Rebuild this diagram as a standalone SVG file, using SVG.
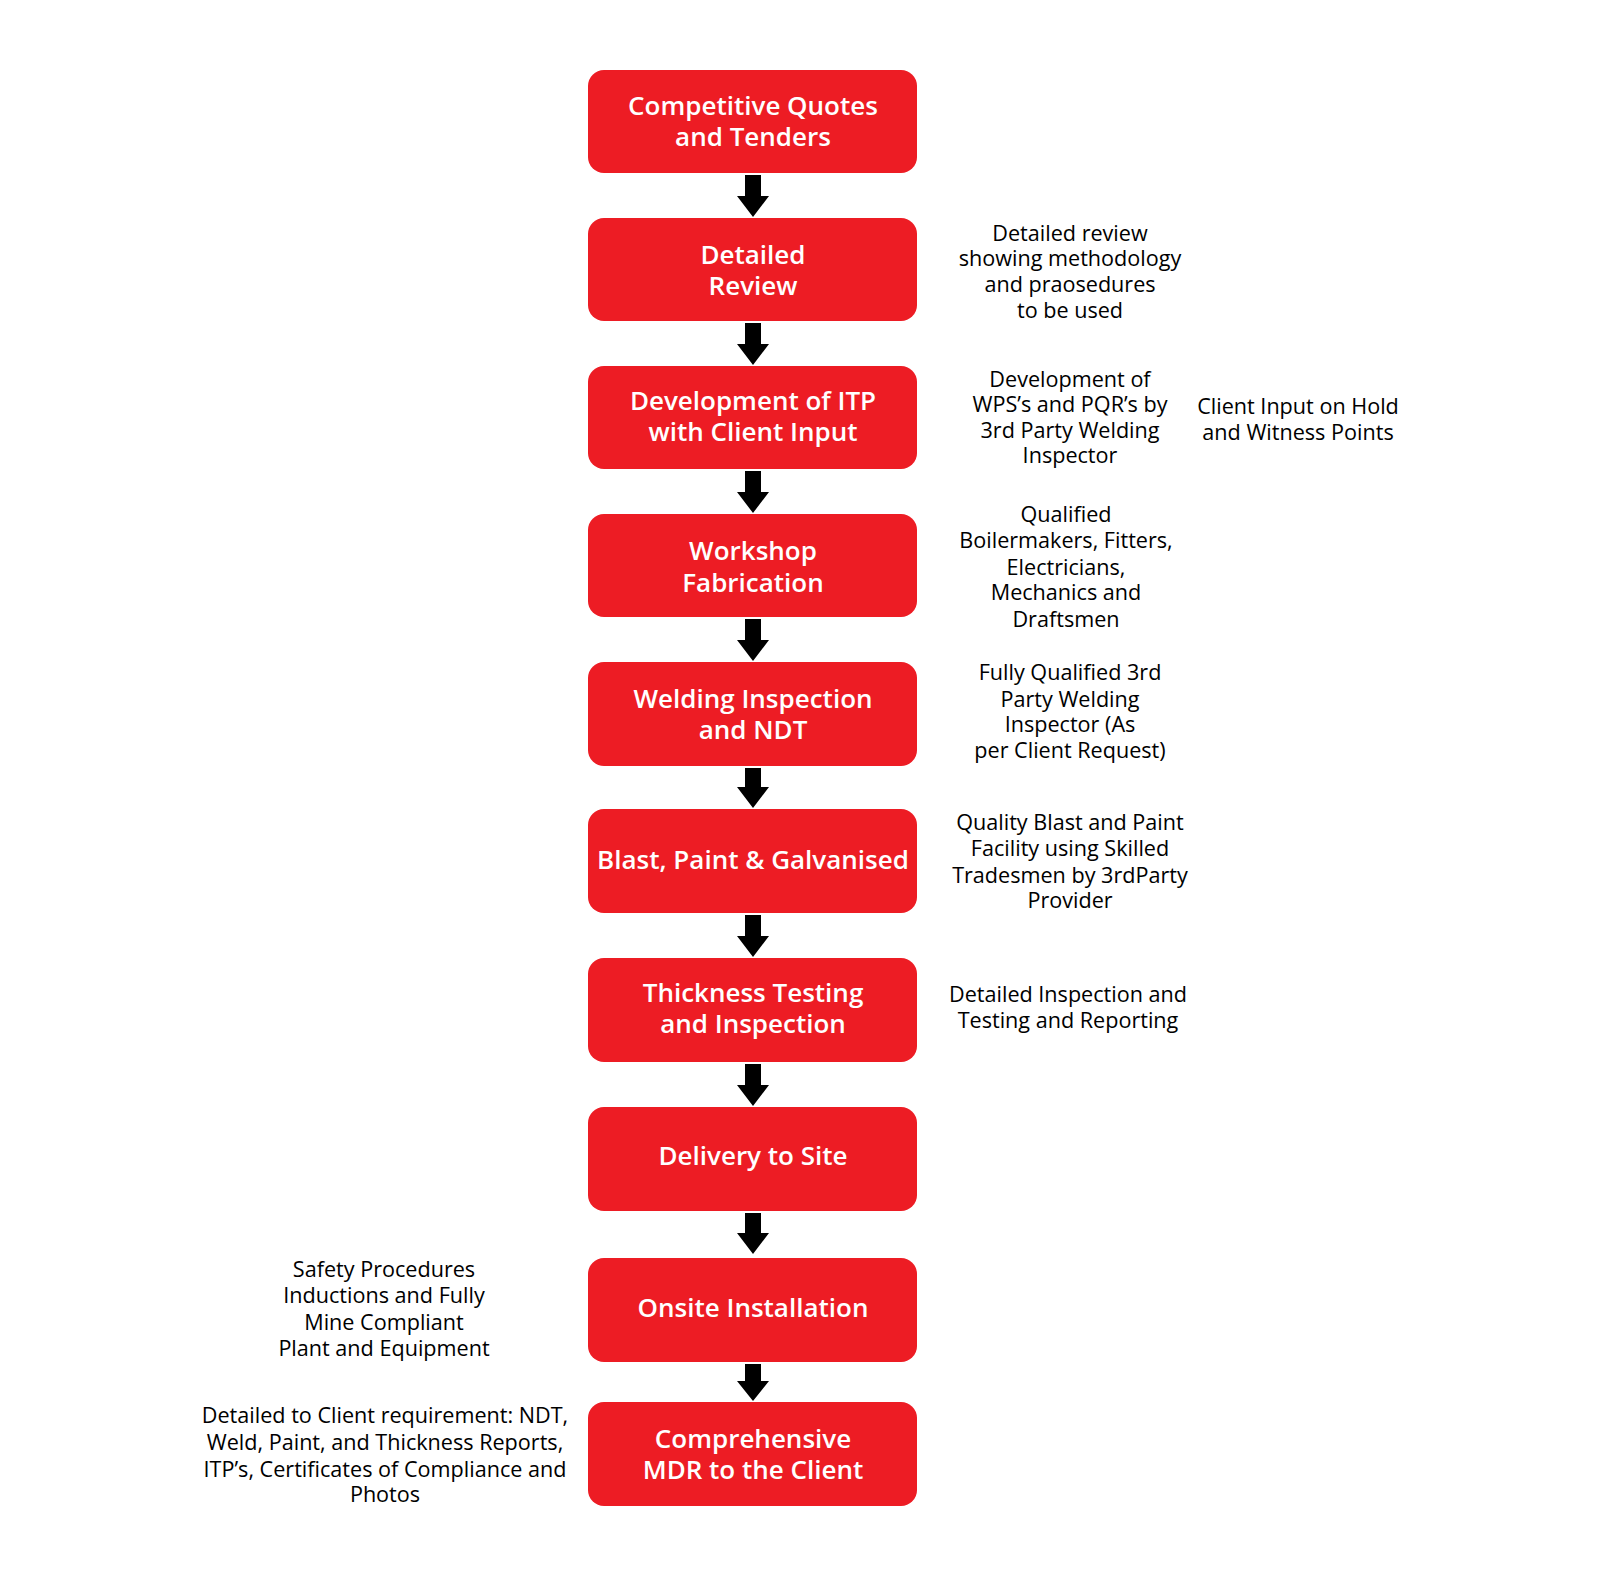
<svg xmlns="http://www.w3.org/2000/svg" width="1600" height="1576" viewBox="0 0 1600 1576">
<defs>
<style>
.box{fill:#ED1C24}
.t{font-family:"Open Sans","Noto Sans",sans-serif;font-weight:600;font-size:26px;fill:#FFFFFF;text-anchor:middle}
.n{font-family:"Open Sans","Noto Sans",sans-serif;font-weight:400;font-size:21.6px;fill:#000000;text-anchor:middle}
.arr{fill:#000000}
</style>
</defs>
<rect width="1600" height="1576" fill="#FFFFFF"/>
<g id="connectors">
<path class="arr" d="M745,175 V196 H737 L753,217 L769,196 H761 V175 Z"/>
<path class="arr" d="M745,323 V344 H737 L753,365 L769,344 H761 V323 Z"/>
<path class="arr" d="M745,471 V492 H737 L753,513 L769,492 H761 V471 Z"/>
<path class="arr" d="M745,619 V640 H737 L753,661 L769,640 H761 V619 Z"/>
<path class="arr" d="M745,768 V787 H737 L753,808 L769,787 H761 V768 Z"/>
<path class="arr" d="M745,915 V936 H737 L753,957 L769,936 H761 V915 Z"/>
<path class="arr" d="M745,1064 V1085 H737 L753,1106 L769,1085 H761 V1064 Z"/>
<path class="arr" d="M745,1213 V1233 H737 L753,1254 L769,1233 H761 V1213 Z"/>
<path class="arr" d="M745,1364 V1381 H737 L753,1401 L769,1381 H761 V1364 Z"/>
</g>
<g id="n1">
<rect class="box" x="588" y="70" width="329" height="103" rx="16"/>
<text class="t" x="753" y="115">Competitive Quotes</text>
<text class="t" x="753" y="146">and Tenders</text>
</g>
<g id="n2">
<rect class="box" x="588" y="218" width="329" height="103" rx="16"/>
<text class="t" x="753" y="264">Detailed</text>
<text class="t" x="753" y="295">Review</text>
</g>
<g id="n3">
<rect class="box" x="588" y="366" width="329" height="103" rx="16"/>
<text class="t" x="753" y="410">Development of ITP</text>
<text class="t" x="753" y="441">with Client Input</text>
</g>
<g id="n4">
<rect class="box" x="588" y="514" width="329" height="103" rx="16"/>
<text class="t" x="753" y="560">Workshop</text>
<text class="t" x="753" y="592">Fabrication</text>
</g>
<g id="n5">
<rect class="box" x="588" y="662" width="329" height="104" rx="16"/>
<text class="t" x="753" y="708">Welding Inspection</text>
<text class="t" x="753" y="739">and NDT</text>
</g>
<g id="n6">
<rect class="box" x="588" y="809" width="329" height="104" rx="16"/>
<text class="t" x="753" y="869">Blast, Paint &amp; Galvanised</text>
</g>
<g id="n7">
<rect class="box" x="588" y="958" width="329" height="104" rx="16"/>
<text class="t" x="753" y="1002">Thickness Testing</text>
<text class="t" x="753" y="1033">and Inspection</text>
</g>
<g id="n8">
<rect class="box" x="588" y="1107" width="329" height="104" rx="16"/>
<text class="t" x="753" y="1165">Delivery to Site</text>
</g>
<g id="n9">
<rect class="box" x="588" y="1258" width="329" height="104" rx="16"/>
<text class="t" x="753" y="1317">Onsite Installation</text>
</g>
<g id="n10">
<rect class="box" x="588" y="1402" width="329" height="104" rx="16"/>
<text class="t" x="753" y="1448">Comprehensive</text>
<text class="t" x="753" y="1479">MDR to the Client</text>
</g>
<g id="note-review">
<text class="n" x="1070" y="241">Detailed review</text>
<text class="n" x="1070" y="266">showing methodology</text>
<text class="n" x="1070" y="292">and praosedures</text>
<text class="n" x="1070" y="318">to be used</text>
</g>
<g id="note-wps">
<text class="n" x="1070" y="387">Development of</text>
<text class="n" x="1070" y="412">WPS’s and PQR’s by</text>
<text class="n" x="1070" y="438">3rd Party Welding</text>
<text class="n" x="1070" y="463">Inspector</text>
</g>
<g id="note-client">
<text class="n" x="1298" y="414">Client Input on Hold</text>
<text class="n" x="1298" y="440">and Witness Points</text>
</g>
<g id="note-qualified">
<text class="n" x="1066" y="522">Qualified</text>
<text class="n" x="1066" y="548">Boilermakers, Fitters,</text>
<text class="n" x="1066" y="575">Electricians,</text>
<text class="n" x="1066" y="600">Mechanics and</text>
<text class="n" x="1066" y="627">Draftsmen</text>
</g>
<g id="note-inspector">
<text class="n" x="1070" y="680">Fully Qualified 3rd</text>
<text class="n" x="1070" y="707">Party Welding</text>
<text class="n" x="1070" y="732">Inspector (As</text>
<text class="n" x="1070" y="758">per Client Request)</text>
</g>
<g id="note-blast">
<text class="n" x="1070" y="830">Quality Blast and Paint</text>
<text class="n" x="1070" y="856">Facility using Skilled</text>
<text class="n" x="1070" y="883">Tradesmen by 3rdParty</text>
<text class="n" x="1070" y="908">Provider</text>
</g>
<g id="note-testing">
<text class="n" x="1068" y="1002">Detailed Inspection and</text>
<text class="n" x="1068" y="1028">Testing and Reporting</text>
</g>
<g id="note-safety">
<text class="n" x="384" y="1277">Safety Procedures</text>
<text class="n" x="384" y="1303">Inductions and Fully</text>
<text class="n" x="384" y="1330">Mine Compliant</text>
<text class="n" x="384" y="1356">Plant and Equipment</text>
</g>
<g id="note-mdr">
<text class="n" x="385" y="1423">Detailed to Client requirement: NDT,</text>
<text class="n" x="385" y="1450">Weld, Paint, and Thickness Reports,</text>
<text class="n" x="385" y="1477">ITP’s, Certificates of Compliance and</text>
<text class="n" x="385" y="1502">Photos</text>
</g>
</svg>
